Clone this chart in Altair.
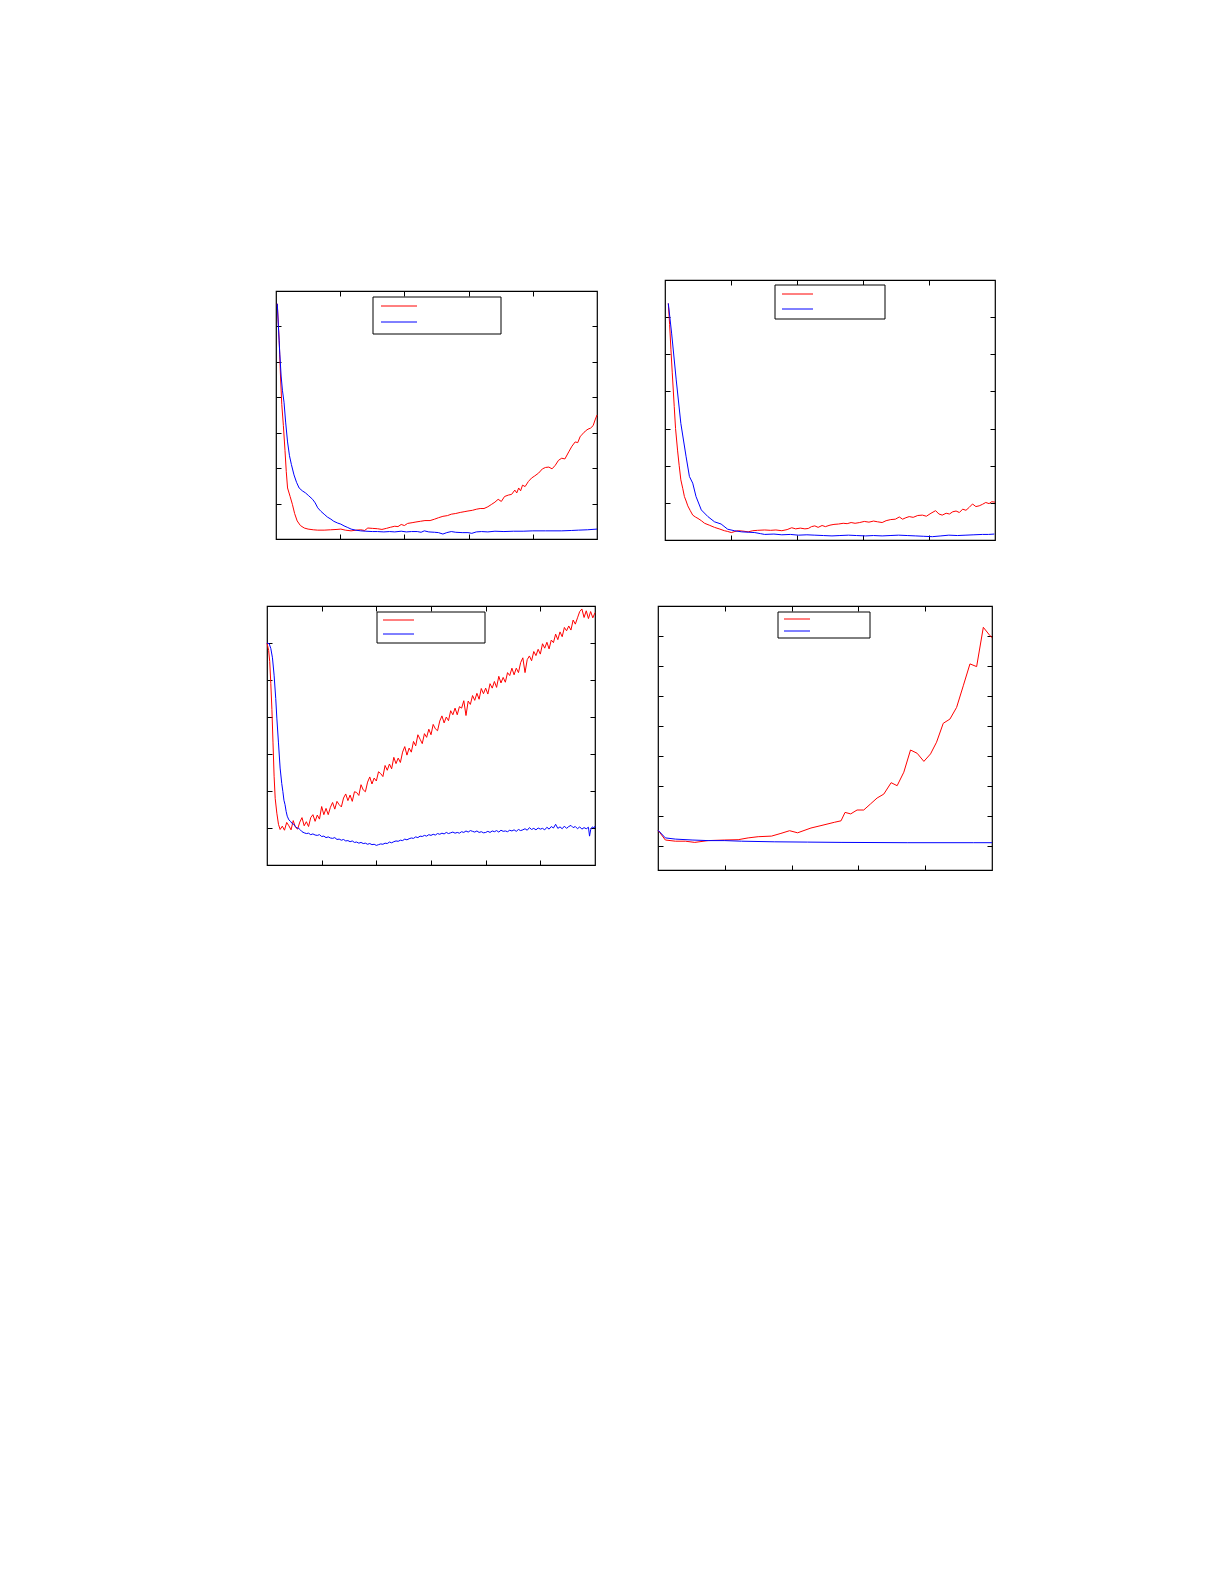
import altair as alt
import pandas as pd

# ---------------- data ----------------
# Panel 1 (top-left)
P1_RED_X = [2, 5, 7, 9, 11.5, 14, 16, 18, 22, 25.5, 29, 33, 38, 44, 50, 58, 65, 75, 85, 95, 101, 108, 117, 125, 132, 138, 143, 150, 158, 165, 172, 178, 185, 190, 195, 200, 205, 212, 218, 225, 232, 240, 247, 253, 260, 267, 273, 280, 287, 293, 299, 306, 312, 318, 324, 330, 336, 341, 346, 351, 356, 362, 367, 372, 375, 378, 381, 384, 388, 393, 398, 403, 409, 415, 420, 425, 430, 435, 440, 445, 450, 456, 461, 466, 470, 474, 478, 482, 486, 490, 494, 497, 500]
P1_RED_Y = [6.64, 5.6, 4.6, 3.8, 3.2, 2.5, 1.9, 1.44, 1.2, 0.98, 0.72, 0.51, 0.38, 0.31, 0.28, 0.26, 0.25, 0.25, 0.26, 0.27, 0.28, 0.25, 0.23, 0.25, 0.26, 0.24, 0.31, 0.30, 0.29, 0.27, 0.30, 0.33, 0.36, 0.35, 0.41, 0.38, 0.44, 0.46, 0.48, 0.50, 0.52, 0.52, 0.56, 0.60, 0.64, 0.66, 0.70, 0.72, 0.75, 0.77, 0.79, 0.81, 0.84, 0.86, 0.86, 0.91, 0.98, 1.04, 1.12, 1.06, 1.20, 1.24, 1.26, 1.38, 1.30, 1.44, 1.36, 1.52, 1.48, 1.62, 1.72, 1.78, 1.86, 1.98, 2.02, 2.03, 1.98, 2.08, 2.22, 2.28, 2.26, 2.46, 2.62, 2.74, 2.72, 2.90, 2.97, 3.05, 3.10, 3.13, 3.20, 3.36, 3.50]
P1_BLUE_X = [2, 4, 6, 8, 10, 12.5, 15, 18, 21, 24, 28, 32, 36, 41, 46, 51, 57, 61, 65, 70, 75, 80, 85.5, 90, 96, 101, 106, 111, 117, 124, 132, 140, 150, 158, 168, 177, 185, 195, 203, 211, 220, 226, 231, 238, 247, 253, 260, 266, 273, 280, 290, 299, 305, 312, 320, 330, 341, 355, 370, 385, 400, 420, 445, 460, 471, 485, 500]
P1_BLUE_Y = [6.64, 5.9, 5.2, 4.6, 4.2, 3.86, 3.3, 2.74, 2.35, 2.1, 1.81, 1.6, 1.44, 1.36, 1.30, 1.22, 1.12, 1.02, 0.88, 0.78, 0.70, 0.62, 0.56, 0.50, 0.45, 0.42, 0.37, 0.33, 0.28, 0.25, 0.23, 0.22, 0.21, 0.21, 0.20, 0.21, 0.20, 0.22, 0.20, 0.21, 0.21, 0.19, 0.23, 0.20, 0.19, 0.18, 0.14, 0.18, 0.21, 0.19, 0.18, 0.18, 0.16, 0.20, 0.21, 0.20, 0.22, 0.21, 0.22, 0.22, 0.23, 0.23, 0.23, 0.24, 0.25, 0.26, 0.28]

# Panel 2 (top-right)
P2_RED_X = [5, 7, 9, 11, 14, 16, 19, 21.5, 24, 27, 29.4, 32, 34.5, 38, 42, 46, 50, 55, 60, 67, 75, 82, 90, 95, 100.5, 106, 111, 118, 126, 133, 140, 151, 160, 168, 177, 185, 192, 198, 205, 212, 217, 222, 227, 232, 238, 243, 250, 256, 263, 270, 276, 282, 288, 295, 302, 309, 316, 322, 329, 335, 342, 349, 355, 360, 365, 370, 376, 383, 390, 396, 403, 410, 415, 420, 426, 431, 436, 441, 446, 451, 456, 461, 466, 471, 476, 481, 486, 491, 495, 500]
P2_RED_Y = [6.37, 5.8, 5.12, 4.5, 3.59, 3.0, 2.42, 2.0, 1.62, 1.38, 1.17, 1.05, 0.92, 0.80, 0.67, 0.62, 0.58, 0.52, 0.45, 0.40, 0.34, 0.30, 0.25, 0.23, 0.20, 0.23, 0.25, 0.24, 0.22, 0.25, 0.26, 0.27, 0.26, 0.27, 0.25, 0.28, 0.33, 0.30, 0.32, 0.30, 0.31, 0.36, 0.38, 0.34, 0.39, 0.36, 0.40, 0.42, 0.43, 0.45, 0.44, 0.47, 0.45, 0.47, 0.50, 0.48, 0.51, 0.49, 0.47, 0.52, 0.55, 0.56, 0.62, 0.56, 0.60, 0.63, 0.61, 0.66, 0.67, 0.64, 0.72, 0.79, 0.70, 0.67, 0.72, 0.70, 0.76, 0.78, 0.74, 0.83, 0.80, 0.88, 0.97, 0.90, 0.92, 0.96, 1.01, 0.98, 1.03, 1.02]
P2_BLUE_X = [5, 10, 17, 24, 32, 37, 42, 47, 55, 65, 75, 85, 95, 105, 116, 126, 136, 145, 151, 165, 177, 190, 202, 215, 227, 240, 253, 265, 278, 290, 304, 316, 329, 341, 354, 367, 380, 392, 405, 418, 430, 443, 456, 468, 481, 490, 499]
P2_BLUE_Y = [6.37, 5.57, 4.31, 3.14, 2.24, 1.71, 1.53, 1.17, 0.81, 0.63, 0.49, 0.43, 0.29, 0.25, 0.22, 0.21, 0.20, 0.17, 0.15, 0.16, 0.14, 0.15, 0.13, 0.14, 0.13, 0.12, 0.11, 0.12, 0.13, 0.12, 0.11, 0.12, 0.11, 0.12, 0.13, 0.12, 0.11, 0.10, 0.09, 0.11, 0.13, 0.12, 0.13, 0.14, 0.15, 0.15, 0.16]

# Panel 3 (bottom-left)
P3_RED_X = [0, 3, 5, 7, 9, 11, 13, 15, 18, 21, 24,
            28, 32, 36, 40, 44, 48, 52, 56, 60, 64, 68, 72, 76, 80, 84, 88, 92, 96, 100, 104, 108, 112, 116, 120, 124, 128, 132, 136, 140, 144, 148, 152, 156, 160, 164, 168, 172, 176, 180, 184, 188, 192, 196, 200, 204, 208, 212, 216, 220, 224, 228, 232, 236, 240, 244, 248, 252, 256, 260, 264, 268, 272, 276, 280, 284, 288, 292, 296, 300, 304, 308, 312, 316, 320, 324, 328, 332, 336, 340, 344, 348, 352, 356, 360, 364, 368, 372, 376, 380, 384, 388, 392, 396, 400, 404, 408, 412, 416, 420, 424, 428, 432, 436, 440, 444, 448, 452, 456, 460, 464, 468, 472, 476, 480, 484, 488, 492, 496, 500, 504, 508, 512, 516, 520, 524, 528, 532, 536, 540, 544, 548, 552, 556, 560, 564, 568, 572, 576, 580, 584, 588, 592, 596, 600]
P3_RED_Y = [6.0, 5.8, 5.5, 4.9, 4.2, 3.3, 2.4, 1.8, 1.4, 1.1, 0.96,
            1.05, 0.94, 1.15, 1.06, 0.95, 1.20, 1.02, 0.97, 1.16, 1.28, 1.06, 1.17, 1.04, 1.28, 1.36, 1.18, 1.35, 1.24, 1.58, 1.36, 1.53, 1.36, 1.56, 1.69, 1.51, 1.72, 1.63, 1.57, 1.81, 1.92, 1.74, 1.89, 1.72, 1.98, 1.96, 1.88, 2.17, 2.03, 1.98, 2.24, 2.38, 2.19, 2.35, 2.27, 2.52, 2.47, 2.39, 2.69, 2.56, 2.73, 2.60, 2.91, 2.74, 2.89, 2.77, 3.05, 3.20, 2.97, 3.16, 3.05, 3.34, 3.22, 3.52, 3.40, 3.28, 3.55, 3.45, 3.67, 3.52, 3.80, 3.68, 3.63, 3.89, 4.03, 3.84, 4.00, 3.90, 4.17, 4.06, 4.24, 4.06, 4.28, 4.24, 4.44, 4.04, 4.43, 4.34, 4.58, 4.45, 4.64, 4.48, 4.77, 4.63, 4.78, 4.62, 4.90, 4.78, 4.96, 4.80, 5.10, 4.92, 5.07, 4.94, 5.20, 5.12, 5.32, 5.14, 5.32, 5.20, 5.47, 5.60, 5.20, 5.55, 5.65, 5.52, 5.77, 5.66, 5.83, 5.70, 5.98, 5.86, 6.02, 5.84, 6.08, 6.01, 6.24, 6.09, 6.30, 6.17, 6.42, 6.33, 6.46, 6.35, 6.62, 6.51, 6.68, 6.85, 6.92, 6.69, 6.87, 6.66, 6.85, 6.68, 6.82]
P3_BLUE_X = [0, 4, 7, 10, 13, 16, 18, 21, 24, 27, 29, 31, 33, 35, 37, 40, 43, 46, 49, 52, 55, 58, 61, 64,
             68, 72, 76, 80, 84, 88, 92, 96, 100, 104, 108, 112, 116, 120, 124, 128, 132, 136, 140, 144, 148, 152, 156, 160, 164, 168, 172, 176, 180, 184, 188, 192, 196, 200, 204, 208, 212, 216, 220, 224, 228, 232, 236, 240, 244, 248, 252, 256, 260, 264, 268, 272, 276, 280, 284, 288, 292, 296, 300, 304, 308, 312, 316, 320, 324, 328, 332, 336, 340, 344, 348, 352, 356, 360, 364, 368, 372, 376, 380, 384, 388, 392, 396, 400, 404, 408, 412, 416, 420, 424, 428, 432, 436, 440, 444, 448, 452, 456, 460, 464, 468, 472, 476, 480, 484, 488, 492, 496, 500, 504, 508, 512, 516, 520, 524, 528, 532, 536, 540, 544, 548, 552, 556, 560, 564, 568, 572, 576, 580, 584, 588, 590, 592, 595, 598, 600]
P3_BLUE_Y = [6.0, 5.98, 5.85, 5.6, 5.13, 4.5, 3.97, 3.3, 2.62, 2.2, 1.99, 1.75, 1.63, 1.45, 1.32, 1.22, 1.18, 1.12, 1.10, 1.04, 1.0, 0.99, 0.95, 0.90,
             0.87, 0.85, 0.86, 0.82, 0.84, 0.81, 0.80, 0.82, 0.77, 0.78, 0.74, 0.76, 0.73, 0.72, 0.74, 0.69, 0.70, 0.67, 0.69, 0.65, 0.66, 0.63, 0.65, 0.61, 0.62, 0.59, 0.61, 0.58, 0.59, 0.56, 0.58, 0.55, 0.56, 0.53, 0.55, 0.57, 0.56, 0.59, 0.58, 0.62, 0.60, 0.63, 0.65, 0.64, 0.67, 0.66, 0.70, 0.68, 0.71, 0.73, 0.72, 0.76, 0.74, 0.78, 0.77, 0.80, 0.78, 0.82, 0.80, 0.83, 0.81, 0.85, 0.83, 0.86, 0.84, 0.88, 0.85, 0.87, 0.89, 0.86, 0.88, 0.86, 0.90, 0.88, 0.92, 0.89, 0.93, 0.91, 0.89, 0.92, 0.88, 0.90, 0.87, 0.88, 0.91, 0.88, 0.92, 0.90, 0.93, 0.89, 0.94, 0.91, 0.92, 0.90, 0.94, 0.92, 0.95, 0.91, 0.96, 0.93, 0.95, 0.98, 0.94, 1.01, 0.96, 0.99, 0.95, 1.00, 0.97, 0.99, 0.95, 1.02, 0.97, 1.04, 1.00, 1.10, 0.99, 1.03, 0.98, 1.05, 0.99, 1.04, 1.07, 1.01, 1.04, 0.98, 1.03, 0.97, 1.01, 0.98, 1.02, 0.78, 0.95, 1.03, 1.00, 1.05]

# Panel 4 (bottom-right)
P4_RED_X = [0, 11, 26, 41, 55, 75, 100, 120, 135, 150, 170, 184, 197, 209, 229, 244, 264, 274, 280, 288.5, 298, 308, 318, 328, 338, 349, 358, 368, 378, 388, 398, 408, 417, 427, 437, 447, 457, 467, 477, 487, 497, 500]
P4_RED_Y = [0.53, 0.20, 0.16, 0.16, 0.12, 0.18, 0.20, 0.21, 0.27, 0.31, 0.33, 0.42, 0.51, 0.44, 0.60, 0.68, 0.79, 0.84, 1.12, 1.07, 1.20, 1.20, 1.40, 1.60, 1.73, 2.11, 2.01, 2.46, 3.20, 3.09, 2.82, 3.07, 3.46, 4.09, 4.23, 4.62, 5.34, 6.07, 5.98, 7.29, 7.01, 6.95]
P4_BLUE_X = [0, 11, 26, 51, 75, 100, 125, 174, 224, 274, 373, 472, 500]
P4_BLUE_Y = [0.53, 0.27, 0.23, 0.20, 0.18, 0.18, 0.16, 0.14, 0.13, 0.12, 0.11, 0.11, 0.11]

# ---------------- styling ----------------
RED = "#ff0000"
BLUE = "#0000ff"
LINE_W = 1
FRAME = alt.ViewBackground(stroke="#000000", strokeWidth=1.2, strokeOpacity=1, fill="white")


def tick_axis(orient, values):
    return alt.Axis(orient=orient, values=values, labels=False, domain=False,
                    ticks=True, tickSize=5, offset=-5, grid=False,
                    minExtent=0, tickColor="black", tickWidth=1, title=None)


def panel(rx, ry, bx, by, xdom, ydom, xticks, yticks, w, h, leg):
    xs = alt.Scale(domain=xdom, nice=False, zero=False)
    ys = alt.Scale(domain=ydom, nice=False, zero=False)
    red = alt.Chart(pd.DataFrame({"x": rx, "y": ry})).mark_line(
        color=RED, strokeWidth=LINE_W).encode(
        x=alt.X("x:Q", scale=xs, axis=tick_axis("bottom", xticks)),
        y=alt.Y("y:Q", scale=ys, axis=tick_axis("left", yticks)))
    blue = alt.Chart(pd.DataFrame({"x": bx, "y": by})).mark_line(
        color=BLUE, strokeWidth=LINE_W).encode(
        x=alt.X("x:Q", scale=xs, axis=tick_axis("top", xticks)),
        y=alt.Y("y:Q", scale=ys, axis=tick_axis("right", yticks)))
    one = pd.DataFrame({"k": [0]})
    (x0, y0, x1, y1, lx0, lx1, ly_r, ly_b) = leg
    box = alt.Chart(one).mark_rect(fill="white", stroke="black", strokeWidth=1).encode(
        x=alt.value(x0), x2=alt.value(x1), y=alt.value(y0), y2=alt.value(y1))
    lr = alt.Chart(one).mark_rule(color=RED, strokeWidth=1).encode(
        x=alt.value(lx0), x2=alt.value(lx1), y=alt.value(ly_r))
    lb = alt.Chart(one).mark_rule(color=BLUE, strokeWidth=1).encode(
        x=alt.value(lx0), x2=alt.value(lx1), y=alt.value(ly_b))
    return alt.layer(red, blue, box, lr, lb).resolve_axis(
        x="independent", y="independent").properties(width=w, height=h, view=FRAME)


def spacer(w, h):
    return alt.Chart(pd.DataFrame({"k": [0]})).mark_point(size=1, opacity=0).properties(
        width=w, height=h, view=alt.ViewBackground(stroke="transparent"))


p1 = panel(P1_RED_X, P1_RED_Y, P1_BLUE_X, P1_BLUE_Y, [0, 500], [0, 7],
           [100, 200, 300, 400], [1, 2, 3, 4, 5, 6], 321, 248,
           (97, 6, 225, 43, 105, 141, 15, 31))
p2 = panel(P2_RED_X, P2_RED_Y, P2_BLUE_X, P2_BLUE_Y, [0, 500], [0, 7],
           [100, 200, 300, 400], [1, 2, 3, 4, 5, 6], 330, 260,
           (110, 5, 220, 39, 117, 148, 14, 29))
p3 = panel(P3_RED_X, P3_RED_Y, P3_BLUE_X, P3_BLUE_Y, [0, 600], [0, 7],
           [100, 200, 300, 400, 500], [1, 2, 3, 4, 5, 6], 328, 259,
           (110, 6, 218, 37, 116, 147, 14, 28))
p4 = panel(P4_RED_X, P4_RED_Y, P4_BLUE_X, P4_BLUE_Y, [0, 500], [-0.8, 8],
           [100, 200, 300, 400], [0, 1, 2, 3, 4, 5, 6, 7], 334, 264,
           (120, 6, 212, 32, 126, 152, 13, 25))

colA = alt.vconcat(spacer(1, 8), p1, spacing=0)
row1 = alt.hconcat(spacer(6, 1), colA, spacer(61, 1), p2, spacing=0)
row2 = alt.hconcat(p3, spacer(55, 1), p4, spacing=0)

chart = alt.vconcat(row1, row2, spacing=62).properties(
    padding={"left": 256, "top": 270, "right": 5, "bottom": 5}
).configure(background="white")

chart.save("out.html", embed_options={"renderer": "svg", "actions": False})
